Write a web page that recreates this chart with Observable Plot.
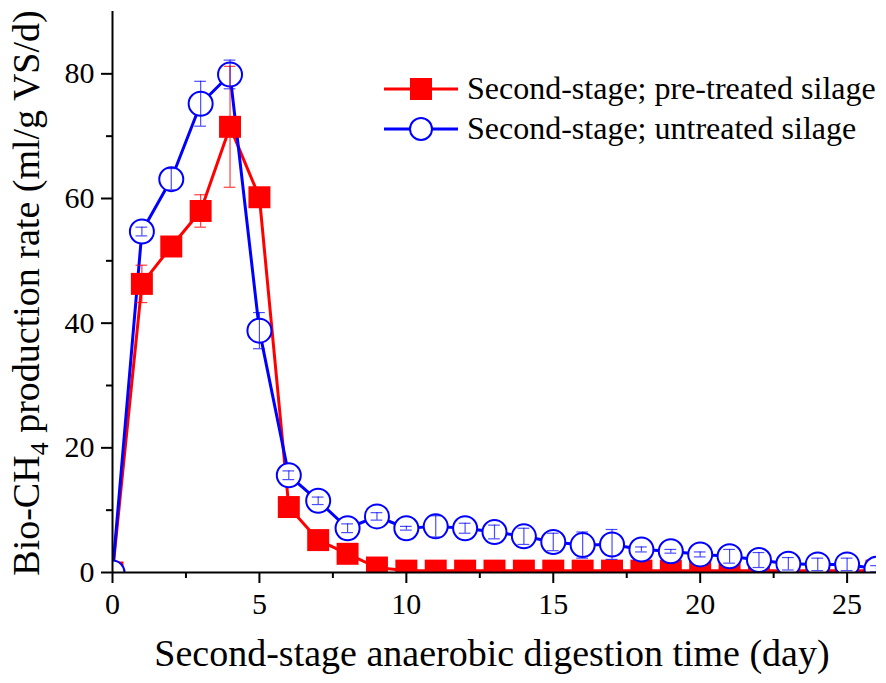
<!DOCTYPE html>
<html><head><meta charset="utf-8">
<script src="https://cdn.jsdelivr.net/npm/d3@7"></script>
<script src="https://cdn.jsdelivr.net/npm/@observablehq/plot@0.6"></script>
<style>
body{margin:0;background:#fff}
#chart{position:relative;width:886px;height:683px}
#chart svg text{font-family:"Liberation Serif","Times New Roman",serif}
</style>
</head><body><div id="chart"></div>
<script>
const days = [0,1,2,3,4,5,6,7,8,9,10,11,12,13,14,15,16,17,18,19,20,21,22,23,24,25,26];
const pretreated    = [0,46.3,52.3,58.0,71.5,60.2,10.5,5.2,3.0,0.8,0.3,0.3,0.3,0.3,0.3,0.3,0.3,0.3,0.3,0.3,0.3,0.3,0.3,0.3,0.3,0.3,0.3];
const pretreatedErr = [0,3.0,0.8,2.6,9.7,0.8,0.5,0.3,0.2,0,0,0,0,0,0,0,0,0,0,0,0,0,0,0,0,0,0];
const untreated     = [0,54.7,63.1,75.2,79.9,38.8,15.6,11.5,7.1,9.0,7.1,7.4,7.1,6.5,5.8,4.9,4.4,4.5,3.7,3.4,2.9,2.6,2.0,1.4,1.3,1.3,0.6];
const untreatedErr  = [0,0.7,1.7,3.6,2.3,2.9,0.7,0.6,0.7,0.6,0.3,1.7,0.8,1.1,1.3,1.4,2.1,2.4,0.4,0.3,0.4,1.1,1.2,1.0,1.0,1.0,0.5];
const xTicks = [0,5,10,15,20,25];
const xMinorTicks = [2.5,7.5,12.5,17.5,22.5];
const yTicks = [0,20,40,60,80];
const yMinorTicks = [10,30,50,70];
const seriesNames = ["Second-stage; pre-treated silage","Second-stage; untreated silage"];
const xTitle = "Second-stage anaerobic digestion time (day)";

const pre = days.map((d,i)=>({day:d, v:pretreated[i], e:pretreatedErr[i]}));
const un  = days.map((d,i)=>({day:d, v:untreated[i], e:untreatedErr[i]}));
const preE = pre.filter(d=>d.e>0), unE = un.filter(d=>d.e>0);
const cap = 0.2;

const font = "'Liberation Serif', 'Times New Roman', serif";
const plot = Plot.plot({
  width: 886, height: 683,
  marginLeft: 112, marginRight: 10, marginTop: 11, marginBottom: 111,
  style: {fontFamily: font, background: "white", overflow: "visible"},
  x: {domain: [0,26], label: null},
  y: {domain: [0,90], label: null},
  marks: [
    Plot.line(pre, {x:"day", y:"v", stroke:"#ff0000", strokeWidth:3, clip:true}),
    Plot.line(un, {x:"day", y:"v", stroke:"#0000ff", strokeWidth:3, clip:true}),
    Plot.dot(pre, {x:"day", y:"v", symbol:"square", r:12.4, fill:"#ff0000", stroke:null, clip:true}),
    Plot.dot(un, {x:"day", y:"v", r:12, fill:"white", stroke:"#0000ff", strokeWidth:2, clip:true}),
    Plot.ruleX(preE, {x:"day", y1:d=>d.v-d.e, y2:d=>d.v+d.e, stroke:"#ff0000", strokeOpacity:0.75, strokeWidth:1.2}),
    Plot.ruleY(preE, {y:d=>d.v+d.e, x1:d=>d.day-cap, x2:d=>d.day+cap, stroke:"#ff0000", strokeOpacity:0.75, strokeWidth:1.2}),
    Plot.ruleY(preE, {y:d=>d.v-d.e, x1:d=>d.day-cap, x2:d=>d.day+cap, stroke:"#ff0000", strokeOpacity:0.75, strokeWidth:1.2}),
    Plot.ruleX(unE, {x:"day", y1:d=>d.v-d.e, y2:d=>d.v+d.e, stroke:"#0000ff", strokeOpacity:0.7, strokeWidth:1.2, clip:true}),
    Plot.ruleY(unE, {y:d=>d.v+d.e, x1:d=>d.day-cap, x2:d=>d.day+cap, stroke:"#0000ff", strokeOpacity:0.7, strokeWidth:1.2, clip:true}),
    Plot.ruleY(unE, {y:d=>d.v-d.e, x1:d=>d.day-cap, x2:d=>d.day+cap, stroke:"#0000ff", strokeOpacity:0.7, strokeWidth:1.2, clip:true}),
    Plot.axisX({ticks: xTicks, tickSize: 11, tickPadding: 9, strokeWidth: 2, fontSize: 30, label: null}),
    Plot.axisX({ticks: xMinorTicks, tickSize: 6, strokeWidth: 2, tickFormat: () => "", label: null}),
    Plot.axisY({ticks: yTicks, tickSize: 11, tickPadding: 7, strokeWidth: 2, fontSize: 30, label: null}),
    Plot.axisY({ticks: yMinorTicks, tickSize: 6, strokeWidth: 2, tickFormat: () => "", label: null}),
    Plot.ruleX([0], {stroke:"black", strokeWidth:2}),
    Plot.ruleY([0], {stroke:"black", strokeWidth:2})
  ]
});
document.getElementById("chart").appendChild(plot);

const svg = d3.select(plot);
// axis titles
svg.append("text").attr("x", 492).attr("y", 666).attr("text-anchor","middle")
  .attr("font-size", 38).attr("fill","black").text(xTitle);
const yt = svg.append("text").attr("transform","translate(39,293) rotate(-90)").attr("text-anchor","middle")
  .attr("font-size", 38).attr("fill","black");
yt.append("tspan").text("Bio-CH");
yt.append("tspan").attr("font-size", 26).attr("dy", 9).text("4");
yt.append("tspan").attr("dy", -9).text(" production rate (ml/g VS/d)");

// legend
const lg = svg.append("g").attr("font-size", 32).attr("text-anchor","start");
const rows = [
  {y: 89, color: "#ff0000", sym: "square"},
  {y: 129, color: "#0000ff", sym: "circle"}
];
rows.forEach((r,i)=>{
  lg.append("line").attr("x1",384).attr("x2",458).attr("y1",r.y).attr("y2",r.y).attr("stroke",r.color).attr("stroke-width",3);
  if (r.sym === "square") lg.append("rect").attr("x",410).attr("y",r.y-11).attr("width",22).attr("height",22).attr("fill",r.color);
  else lg.append("circle").attr("cx",421).attr("cy",r.y).attr("r",11).attr("fill","white").attr("stroke",r.color).attr("stroke-width",2);
  lg.append("text").attr("x",467).attr("y",r.y+10).attr("fill","black").text(seriesNames[i]);
});
</script>
</body></html>
